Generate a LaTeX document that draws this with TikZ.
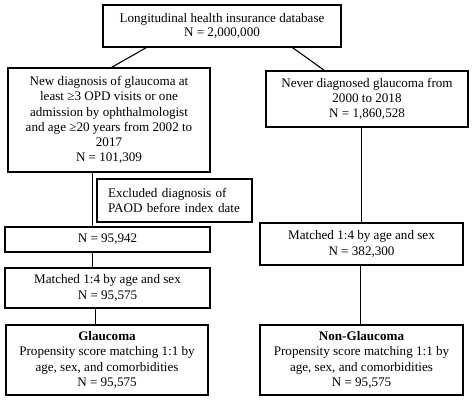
\documentclass[tikz,border=0pt]{standalone}
\usepackage{fontspec}
\setmainfont{Liberation Serif}
\begin{document}
\begin{tikzpicture}[x=1pt,y=-1pt,
  box/.style={draw, line width=1.1pt, align=center, inner sep=0pt, anchor=center, font=\fontsize{13.1}{15.2}\selectfont},
  conn/.style={line width=1.1pt}]
\useasboundingbox (0,0) rectangle (474,403);
\node[box, minimum width=238pt, minimum height=42pt, font=\fontsize{13.1}{13.5}\selectfont] (top) at (222,26) {Longitudinal health insurance database\\N = 2,000,000};
\node[box, minimum width=202pt, minimum height=104pt] (L2) at (109,120) {New diagnosis of glaucoma at\\least ≥3 OPD visits or one\\admission by ophthalmologist\\and age ≥20 years from 2002 to\\2017\\N = 101,309};
\node[box, minimum width=202pt, minimum height=56pt] (R2) at (367,99) {Never diagnosed glaucoma from\\2000 to 2018\\N = 1,860,528};
\node[box, minimum width=155pt, minimum height=43pt, align=left, text width=133pt] (ex) at (174.5,200.5) {Excluded diagnosis of\\PAOD before index date};
\node[box, minimum width=205pt, minimum height=25pt] (N1) at (107.5,239.5) {N = 95,942};
\node[box, minimum width=205pt, minimum height=40pt, font=\fontsize{13.1}{16.5}\selectfont] (ML) at (107.5,288) {Matched 1:4 by age and sex\\N = 95,575};
\node[box, minimum width=202pt, minimum height=70pt] (G) at (107,360) {\textbf{Glaucoma}\\Propensity score matching 1:1 by\\age, sex, and comorbidities\\N = 95,575};
\node[box, minimum width=203pt, minimum height=42pt] (MR) at (361.5,244) {Matched 1:4 by age and sex\\N = 382,300};
\node[box, minimum width=203pt, minimum height=70pt] (NG) at (361.5,360) {\textbf{Non-Glaucoma}\\Propensity score matching 1:1 by\\age, sex, and comorbidities\\N = 95,575};
\draw[conn] ([xshift=44pt]top.south west) -- ([xshift=104pt]L2.north west);
\draw[conn] ([xshift=190pt]top.south west) -- ([xshift=59pt]R2.north west);
\draw[conn] ([xshift=85pt]L2.south west) -- ([xshift=88pt]N1.north west);
\draw[conn] ([xshift=88pt]N1.south west) -- ([xshift=88pt]ML.north west);
\draw[conn] ([xshift=91pt]ML.south west) -- ([xshift=90pt]G.north west);
\draw[conn] ([xshift=96pt]R2.south west) -- ([xshift=102pt]MR.north west);
\draw[conn] ([xshift=101pt]MR.south west) -- ([xshift=101pt]NG.north west);
\end{tikzpicture}
\end{document}
